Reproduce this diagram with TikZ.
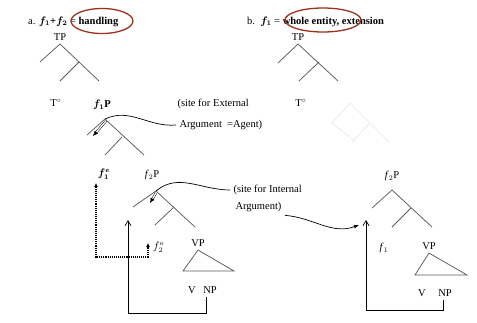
\documentclass[tikz,border=0pt]{standalone}
\usepackage{fontspec}
\setmainfont{Liberation Serif}
\usepackage{tikz}
\usetikzlibrary{positioning,arrows.meta,shapes.geometric}
\usepackage{xcolor}

\definecolor{ovalred}{RGB}{158,48,28}
\definecolor{branch}{RGB}{90,90,90}

\begin{document}
\begin{tikzpicture}[x=1pt, y=-1pt, font=\fontsize{10.5}{12.5}\selectfont,
    br/.style={draw=branch, line width=0.75pt},
    ghost/.style={draw=black!7, line width=1pt},
    oval/.style={draw=ovalred, line width=1.3pt, ellipse, inner sep=0pt},
    headarrow/.style={double=white, double distance=1.3pt, line width=0.5pt, -{Latex[length=5pt,width=4.5pt]}},
    wiggle/.style={line width=0.7pt},
    move/.style={line width=0.7pt, -{Straight Barb[length=5pt,width=6pt]}},
    trace/.style={densely dotted, line width=1.1pt, {Latex[length=4pt,width=4pt]}-{Latex[length=4pt,width=4pt]}}]
    \useasboundingbox (0,0) rectangle (477,322);

    % Headings
    \node[anchor=base west, inner sep=0pt] (headA) at (28,24)
        {a. \textbf{\boldmath$f_1$+$f_2$} = \textbf{handling}};
    \node[anchor=base west, inner sep=0pt] (headB) at (247,24)
        {b.\ \ \textbf{\boldmath$f_1$} = \textbf{whole entity, extension}};
    \node[oval, minimum width=62pt, minimum height=25pt] (ovalA) at (102,21) {};
    \node[oval, minimum width=76pt, minimum height=24pt] (ovalB) at (323,20) {};

    % Tree a: TP
    \node (tpA) at (60,37) {TP};
    \coordinate (tpA-l)  at (40,62);
    \coordinate (tpA-m)  at (79,62);
    \coordinate (tpA-ml) at (60,81);
    \coordinate (tpA-r)  at (99,81);
    \draw[br] (tpA-l) -- (tpA.south) -- (tpA-r);
    \draw[br] (tpA-m) -- (tpA-ml);

    % Tree b: TP
    \node (tpB) at (298,37) {TP};
    \coordinate (tpB-l)  at (278,63);
    \coordinate (tpB-m)  at (319,62);
    \coordinate (tpB-ml) at (299,81);
    \coordinate (tpB-r)  at (338,81);
    \draw[br] (tpB-l) -- (tpB.south) -- (tpB-r);
    \draw[br] (tpB-m) -- (tpB-ml);

    \node (tA) at (56,103) {T$^{\circ}$};
    \node (tB) at (301,103) {T$^{\circ}$};

    % faint shape on the right
    \draw[ghost] (332,123) -- (350,103) -- (390,143);
    \draw[ghost] (332,123) -- (356,142);
    \draw[ghost] (370,123) -- (352,142);

    % f1P with the external argument site
    \node (f1p) at (102,105) {\textbf{\boldmath$f_1$P}};
    \coordinate (f1p-top) at (105,119);
    \coordinate (f1p-l)   at (87,135);
    \coordinate (f1p-m)   at (122,137);
    \coordinate (f1p-ml)  at (105,155);
    \coordinate (f1p-r)   at (144,155);
    \draw[br] (f1p-l) -- (f1p-top) -- (f1p-r);
    \draw[br] (f1p-m) -- (f1p-ml);
    \draw[headarrow] ([shift={(1,2)}]f1p-top) -- (93,136);

    \node[anchor=west] (extA) at (174,104) {(site for External};
    \node[anchor=west] (extB) at (176,125) {Argument \ =Agent)};
    \draw[wiggle] (f1p-top) to[out=25, in=185] (extB.west);

    % f2P with the internal argument site
    \node (fOneE) at (104,174) {\textbf{\boldmath$f_1^e$}};
    \node (f2pA) at (152,175) {\textit{f}$_2$P};
    \coordinate (f2pA-top) at (156,191);
    \coordinate (f2pA-l)   at (133,207);
    \coordinate (f2pA-m)   at (174,207);
    \coordinate (f2pA-ml)  at (155,225);
    \coordinate (f2pA-r)   at (195,227);
    \draw[br] (f2pA-l) -- (f2pA-top) -- (f2pA-r);
    \draw[br] (f2pA-m) -- (f2pA-ml);
    \draw[headarrow] ([shift={(0,2)}]f2pA-top) -- (150,203);

    \node[anchor=west] (intA) at (230,190) {(site for Internal};
    \node[anchor=west] (intB) at (232,207) {Argument)};
    \draw[wiggle] (f2pA-top) to[out=40, in=180] (intA.west);

    \node[anchor=west, inner sep=1pt] (fTwoO) at (152,247) {$f_2^o$};
    \coordinate (corner) at (96,257);
    \draw[trace] (corner |- fOneE.south) -- (corner) -- (148,257) -- (148,243);

    \node (vpA) at (198,243) {VP};
    \coordinate (vpA-l) at (183,271);
    \coordinate (vpA-r) at (234,271);
    \draw[br] (vpA.south) -- (vpA-l) -- (vpA-r) -- cycle;
    \node (vA)  at (192,290) {V};
    \node (npA) at (210,290) {NP};
    \coordinate (landA) at (128,220);
    \draw[move] ([xshift=-4pt]npA.south) -- ++(0,16) -| (landA);

    % Right tree
    \node (f2pB) at (392,176) {\textit{f}$_2$P};
    \coordinate (f2pB-top) at (392,190);
    \coordinate (f2pB-l)   at (372,208);
    \coordinate (f2pB-m)   at (411,208);
    \coordinate (f2pB-ml)  at (392,227);
    \coordinate (f2pB-r)   at (432,227);
    \draw[br] (f2pB-l) -- (f2pB-top) -- (f2pB-r);
    \draw[br] (f2pB-m) -- (f2pB-ml);

    \node (f1B) at (384,248) {\textit{f}$_1$};
    \node (vpB) at (429,246) {VP};
    \coordinate (vpB-l) at (415,275);
    \coordinate (vpB-r) at (467,275);
    \draw[br] (vpB.south) -- (vpB-l) -- (vpB-r) -- cycle;
    \node (vB)  at (422,293) {V};
    \node (npB) at (445,293) {NP};
    \coordinate (landB) at (366,220);
    \draw[move] ([xshift=-2pt]npB.south) -- ++(0,10) -| (landB);

    \draw[wiggle, -{Latex[length=5pt,width=4pt]}] (intB.south east) to[out=-5, in=200] ([shift={(-7pt,-5pt)}]landB);
\end{tikzpicture}
\end{document}
